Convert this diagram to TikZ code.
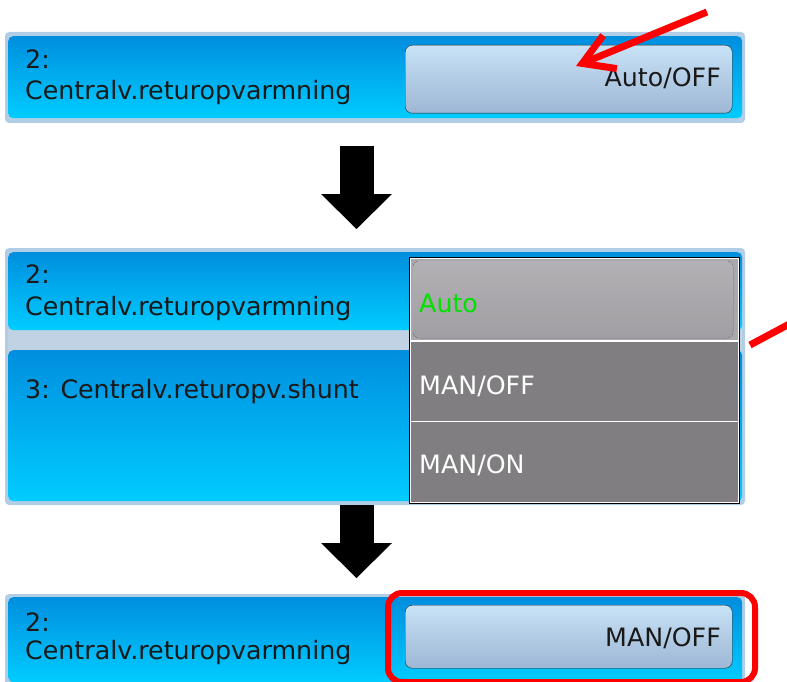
\documentclass[tikz,border=0pt]{standalone}
\usepackage{fontspec}
\setmainfont{DejaVu Sans}
\usetikzlibrary{arrows.meta}
\definecolor{framecol}{RGB}{178,206,230}
\definecolor{bluetop}{RGB}{0,142,222}
\definecolor{bluebot}{RGB}{0,204,255}
\definecolor{btntop}{RGB}{200,226,246}
\definecolor{btnmid}{RGB}{190,214,238}
\definecolor{btnbot}{RGB}{158,182,212}
\definecolor{itemlight}{RGB}{170,168,172}
\definecolor{itemdark}{RGB}{128,126,128}
\definecolor{autogreen}{RGB}{0,225,0}
\definecolor{strip}{RGB}{192,210,228}
\tikzset{
  bluebar/.style={rounded corners=5pt, inner sep=0pt, top color=bluetop, bottom color=bluebot},
  button/.style={draw=black!85, rounded corners=7pt, inner sep=0pt, top color=btntop, middle color=btnmid, bottom color=btnbot},
  item/.style={inner sep=0pt, minimum width=327pt},
  txt/.style={inner sep=0pt, font=\fontsize{25.3}{29}\selectfont, text=black!90},
  stepper/.style={line width=34pt, -{Triangle[length=35pt,width=71pt,line width=0pt]}},
  hint/.style={red, line width=7pt},
}
\begin{document}
\begin{tikzpicture}[x=1pt,y=-1pt]
\useasboundingbox (0,0) rectangle (787,682);
% first screen
\fill[framecol, rounded corners=4pt] (5,32) rectangle (745,123);
\node[bluebar, minimum width=734pt, minimum height=82pt, anchor=north west] (bar1) at (8,36) {};
\node[button, minimum width=327pt, minimum height=68pt, anchor=north west] (btn1) at (405,45) {};
\node[txt, anchor=base west] (num1) at (25,69) {2:};
\node[txt, anchor=base west] (name1) at (25,100) {Centralv.returopvarmning};
\node[txt, anchor=base east] (val1) at (721,87) {Auto/OFF};
\coordinate (hint1) at (707,12);
\coordinate (tip1) at (576,66);
\draw[hint, -{Straight Barb[length=30pt,width=36pt]}] (hint1) -- (tip1);
% arrow down
\coordinate (top1) at (356.5,146);
\coordinate (end1) at (356.5,229);
\draw[stepper] (top1) -- (end1);
% second screen
\fill[framecol, rounded corners=4pt] (5,248) rectangle (745,505);
\fill[strip] (8,328) rectangle (742,352);
\node[bluebar, minimum width=734pt, minimum height=78pt, anchor=north west] (bar2) at (8,252) {};
\node[bluebar, minimum width=734pt, minimum height=151pt, anchor=north west] (bar3) at (8,350) {};
\node[txt, anchor=base west] (num2) at (25,283) {2:};
\node[txt, anchor=base west] (name2) at (25,315) {Centralv.returopvarmning};
\node[txt, anchor=base west] (name3) at (25,398) {3: Centralv.returopv.shunt};
\node[draw=black, fill=white, line width=1pt, inner sep=0pt, minimum width=330pt, minimum height=246pt, anchor=north west] (menu) at (409,257) {};
\node[item, fill=itemlight, minimum height=81pt, anchor=north west] (auto) at (410.5,259) {};
\fill[rounded corners=6pt, top color=itemlight!90!white, bottom color=itemlight!94!black] (413,261) rectangle (733,338);
\node[item, fill=itemdark, minimum height=79pt, anchor=north west] (manoff) at (410.5,341.5) {};
\node[item, fill=itemdark, minimum height=80pt, anchor=north west] (manon) at (410.5,422) {};
\node[txt, text=autogreen, anchor=base west] (lblauto) at (419,312) {Auto};
\node[txt, text=white, anchor=base west] (lbloff) at (419,394) {MAN/OFF};
\node[txt, text=white, anchor=base west] (lblon) at (419,473) {MAN/ON};
\coordinate (hint2) at (795,321);
\coordinate (tip2) at (750,345);
\draw[hint] (hint2) -- (tip2);
% arrow down
\coordinate (top2) at (356.5,505);
\coordinate (end2) at (356.5,578);
\draw[stepper] (top2) -- (end2);
% third screen
\fill[framecol, rounded corners=4pt] (5,594) rectangle (745,690);
\node[bluebar, minimum width=734pt, minimum height=85pt, anchor=north west] (bar4) at (8,597) {};
\node[button, minimum width=327pt, minimum height=63pt, anchor=north west] (btn4) at (405,605) {};
\node[txt, anchor=base west] (num4) at (25,631) {2:};
\node[txt, anchor=base west] (name4) at (25,659) {Centralv.returopvarmning};
\node[txt, anchor=base east] (val4) at (721,646) {MAN/OFF};
\node[draw=red, line width=6pt, rounded corners=14pt, inner sep=0pt, minimum width=367pt, minimum height=89pt, anchor=north west] (chosen) at (385,590) {};
\end{tikzpicture}
\end{document}
